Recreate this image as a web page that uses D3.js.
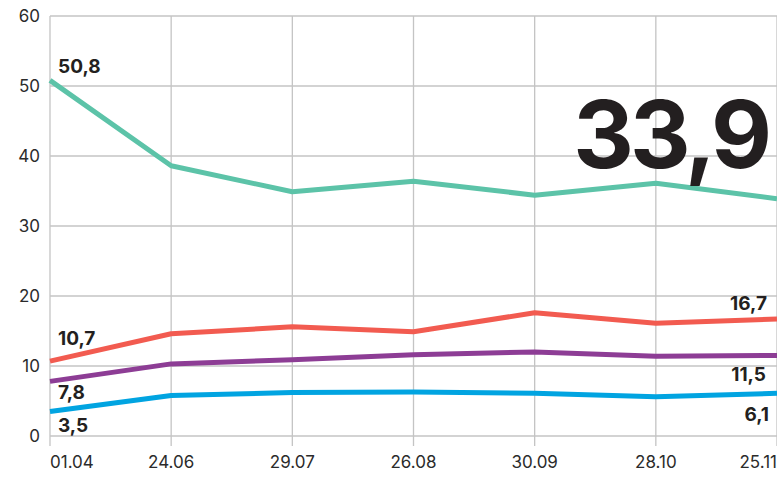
<!DOCTYPE html>
<html>
<head>
<meta charset="utf-8">
<script src="https://cdn.jsdelivr.net/npm/d3@7"></script>
<style>
  body { margin: 0; background: #fff; }
  text { font-family: Inter, "Liberation Sans", sans-serif; }
</style>
</head>
<body>
<div class="visContainer"></div>
<script>
// Data.
const dates = ['01.04', '24.06', '29.07', '26.08', '30.09', '28.10', '25.11'];
const greenValues = [50.8, 38.6, 34.9, 36.4, 34.4, 36.1, 33.9];
const redValues = [10.7, 14.6, 15.6, 14.9, 17.6, 16.1, 16.7];
const purpleValues = [7.8, 10.3, 10.9, 11.6, 12.0, 11.4, 11.5];
const blueValues = [3.5, 5.8, 6.2, 6.3, 6.1, 5.6, 6.1];
const yTicks = [0, 10, 20, 30, 40, 50, 60];

const series = [
    {values: greenValues, color: '#5cc3a8'},
    {values: redValues, color: '#f25b50'},
    {values: purpleValues, color: '#8d3d95'},
    {values: blueValues, color: '#01a4e1'}
];

// SVG constants.
const width = 777;
const height = 482;

const svg = d3.select('.visContainer')
              .append('svg')
              .attr('width', width)
              .attr('height', height);

const x = d3.scalePoint().domain(dates).range([50, 777]);
const y = d3.scaleLinear().domain([0, 60]).range([436, 16]);

// Horizontal grid lines.
svg.append('g')
   .selectAll('line')
   .data(yTicks)
   .join('line')
   .attr('x1', 50)
   .attr('x2', width)
   .attr('y1', d => y(d))
   .attr('y2', d => y(d))
   .attr('stroke', '#c4c4c4')
   .attr('stroke-width', 1.3);

// Vertical grid lines, running a little below the zero line as ticks.
svg.append('g')
   .selectAll('line')
   .data(dates)
   .join('line')
   .attr('x1', d => x(d))
   .attr('x2', d => x(d))
   .attr('y1', y(60))
   .attr('y2', 446)
   .attr('stroke', '#c4c4c4')
   .attr('stroke-width', 1.3);

// Y labels.
svg.append('g')
   .selectAll('text')
   .data(yTicks)
   .join('text')
   .attr('x', 40)
   .attr('y', d => y(d) + 6)
   .attr('text-anchor', 'end')
   .attr('font-size', '17px')
   .attr('fill', '#2b2b2b')
   .text(d => d);

// X labels: first starts at its line, last ends at the edge.
svg.append('g')
   .selectAll('text')
   .data(dates)
   .join('text')
   .attr('x', d => x(d))
   .attr('y', 468)
   .attr('text-anchor', (d, i) => i === 0 ? 'start' : (i === dates.length - 1 ? 'end' : 'middle'))
   .attr('font-size', '17px')
   .attr('fill', '#2b2b2b')
   .text(d => d);

// Lines.
const line = d3.line()
               .x((d, i) => x(dates[i]))
               .y(d => y(d));

svg.append('g')
   .selectAll('path')
   .data(series)
   .join('path')
   .attr('d', d => line(d.values))
   .attr('fill', 'none')
   .attr('stroke', d => d.color)
   .attr('stroke-width', 5)
   .attr('stroke-linejoin', 'round');

// Value labels.
const fmt = v => String(v.toFixed(1)).replace('.', ',');
const last = dates.length - 1;
const labels = [
    {value: greenValues[0], x: x(dates[0]) + 8, y: y(greenValues[0]) - 7, anchor: 'start'},
    {value: redValues[0], x: x(dates[0]) + 8, y: y(redValues[0]) - 16, anchor: 'start'},
    {value: purpleValues[0], x: x(dates[0]) + 8, y: y(purpleValues[0]) + 18, anchor: 'start'},
    {value: blueValues[0], x: x(dates[0]) + 8, y: y(blueValues[0]) + 20, anchor: 'start'},
    {value: redValues[last], x: x(dates[last]) - 10, y: y(redValues[last]) - 9, anchor: 'end'},
    {value: purpleValues[last], x: x(dates[last]) - 11, y: y(purpleValues[last]) + 25, anchor: 'end'},
    {value: blueValues[last], x: x(dates[last]) - 8, y: y(blueValues[last]) + 28, anchor: 'end'}
];

svg.append('g')
   .selectAll('text')
   .data(labels)
   .join('text')
   .attr('x', d => d.x)
   .attr('y', d => d.y)
   .attr('text-anchor', d => d.anchor)
   .attr('font-size', '19px')
   .attr('font-weight', 'bold')
   .attr('fill', '#231f20')
   .text(d => fmt(d.value));

// Big last value of the green line.
svg.append('text')
   .attr('x', 768)
   .attr('y', 168)
   .attr('text-anchor', 'end')
   .attr('font-size', '94px')
   .attr('font-weight', 'bold')
   .attr('letter-spacing', '-4px')
   .attr('fill', '#231f20')
   .text(fmt(greenValues[last]));
</script>
</body>
</html>
